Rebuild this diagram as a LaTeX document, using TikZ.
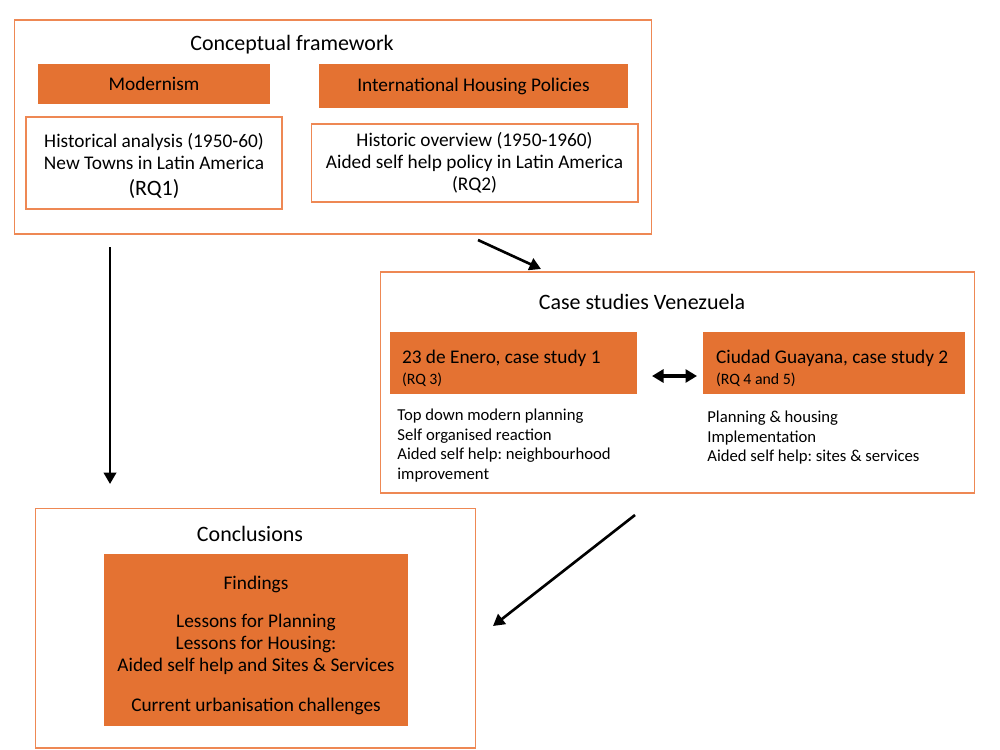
\documentclass[tikz,border=0pt]{standalone}
\usepackage{fontspec}
\setmainfont{Carlito}
\usetikzlibrary{positioning, arrows.meta}
\definecolor{boxfill}{RGB}{228,114,50}
\definecolor{boxline}{RGB}{238,136,84}

\begin{document}
\begin{tikzpicture}[
    x=0.02cm, y=-0.02cm,
    frame/.style={
        rectangle, draw=boxline, line width=0.6pt, fill=white,
        inner sep=0pt
    },
    filled/.style={
        rectangle, draw=none, fill=boxfill, inner sep=0pt,
        align=center, font=\fontsize{11}{13}\selectfont
    },
    textbox/.style={
        rectangle, draw=boxline, line width=0.6pt, fill=white,
        inner sep=0pt, align=center,
        font=\fontsize{11}{12.6}\selectfont
    },
    title/.style={font=\fontsize{12.5}{14}\selectfont, inner sep=0pt},
    notes/.style={align=flush left, inner sep=0pt, font=\fontsize{9.5}{11.1}\selectfont\frenchspacing},
    arr/.style={-{Triangle[length=2.3mm, width=2.5mm]}, line width=1.5pt},
    dblarr/.style={{Triangle[length=2.3mm, width=2.6mm]}-{Triangle[length=2.3mm, width=2.6mm]}, line width=2pt}
]
\useasboundingbox (0,0) rectangle (1000,750);

% ---------------- Conceptual framework ----------------
\node[frame, minimum width=12.76cm, minimum height=4.28cm] (cf_box) at (333,127) {};
\node[title] (cf_title) at (292,45) {Conceptual framework};
\node[filled, minimum width=4.64cm, minimum height=0.8cm] (modern) at (154,84) {Modernism};
\node[filled, minimum width=6.18cm, minimum height=0.88cm] (policies) at (473.5,86) {International Housing Policies};
\node[textbox, minimum width=5.12cm, minimum height=1.84cm] (rq1) at (154,163) {};
\node[align=center, inner sep=0pt, font=\fontsize{11}{12.6}\selectfont] (rq1_text) at (154,166)
    {Historical analysis (1950-60)\\ New Towns in Latin America\\[2pt] {\fontsize{12.5}{14}\selectfont (RQ1)}};
\node[textbox, minimum width=6.54cm, minimum height=1.56cm] (rq2) at (474.5,163)
    {Historic overview (1950-1960)\\ Aided self help policy in Latin America\\ (RQ2)};

% ---------------- Case studies ----------------
\node[frame, minimum width=11.9cm, minimum height=4.42cm] (cs_box) at (677.5,382.5) {};
\node[title] (cs_title) at (642,302) {Case studies Venezuela};
\node[filled, minimum width=4.94cm, minimum height=1.24cm, text width=4.46cm, align=flush left] (enero) at (513.5,363)
    {\rule{0pt}{14pt}23 de Enero, case study 1\\[-1pt] {\fontsize{9}{11}\selectfont (RQ 3)}};
\node[filled, minimum width=5.24cm, minimum height=1.24cm, text width=4.72cm, align=flush left] (guayana) at (834,363)
    {\rule{0pt}{14pt}Ciudad Guayana, case study 2\\[-1pt] {\fontsize{9}{11}\selectfont (RQ 4 and 5)}};
\node[notes, anchor=north west] (enero_notes) at (397,409)
    {Top down modern planning\\ Self organised reaction\\ Aided self help: neighbourhood\\ improvement};
\node[notes, anchor=north west] (guayana_notes) at (707,411)
    {Planning \& housing\\ Implementation\\ Aided self help: sites \& services};

% ---------------- Conclusions ----------------
\node[frame, minimum width=8.82cm, minimum height=4.8cm] (cc_box) at (255.5,628) {};
\node[title] (cc_title) at (250,534) {Conclusions};
\node[filled, minimum width=6.08cm, minimum height=3.44cm] (findings) at (256,640) {};
\node[align=center, inner sep=0pt, font=\fontsize{11}{12.6}\selectfont] (findings_text) at (256,645)
    {Findings\\[9pt] Lessons for Planning\\ Lessons for Housing:\\ Aided self help and Sites \& Services\\[10pt] Current urbanisation challenges};

% ---------------- Arrows ----------------
\coordinate (a1s) at (110,247);
\coordinate (a1e) at (110,484);
\coordinate (a2s) at (478,240);
\coordinate (a2e) at (541,269);
\coordinate (a3s) at (635,515);
\coordinate (a3e) at (493,626);
\draw[arr] (a1s) -- (a1e);
\draw[arr] (a2s) -- (a2e);
\draw[arr] (a3s) -- (a3e);
\coordinate (dbl_l) at (652,376);
\coordinate (dbl_r) at (697,376);
\draw[dblarr] (dbl_l) -- (dbl_r);

\end{tikzpicture}
\end{document}
